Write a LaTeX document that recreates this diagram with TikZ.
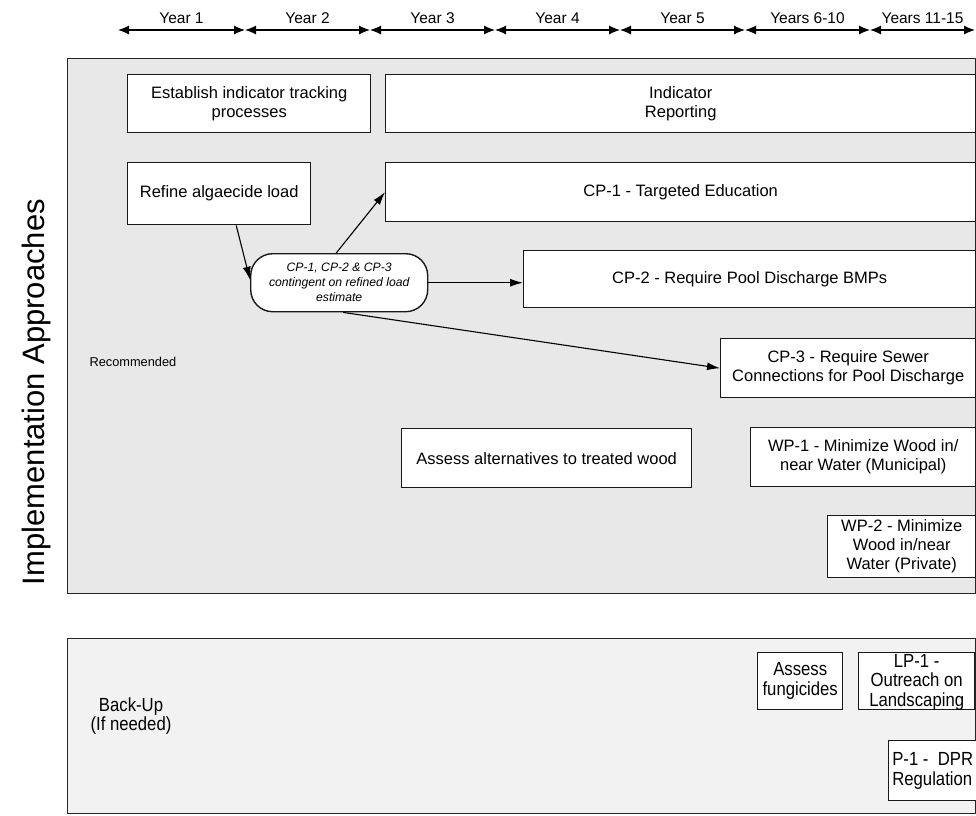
\documentclass[tikz,border=0pt]{standalone}
\usepackage{fontspec}
\setmainfont{Liberation Sans}
\newfontfamily\narrowfont{Liberation Sans}[FakeStretch=0.88]
\usetikzlibrary{arrows.meta}

\definecolor{recshade}{gray}{0.91}
\definecolor{bushade}{gray}{0.95}

\begin{document}
\begin{tikzpicture}[x=1pt,y=-1pt,
  panel/.style={draw=black!85, line width=1.2pt, anchor=north west, inner sep=0pt},
  box/.style={draw=black!90, line width=1.4pt, fill=white, anchor=north west,
    inner sep=2pt, align=center, font=\fontsize{16.5}{19}\selectfont},
  smallbox/.style={box, font=\narrowfont\fontsize{19}{20}\selectfont},
  cond/.style={draw=black!90, line width=1.4pt, fill=white, anchor=north west,
    rounded corners=22pt, inner sep=2pt, align=center,
    font=\itshape\fontsize{12.2}{15}\selectfont},
  arr/.style={line width=1.1pt, -{Latex[length=13pt,width=8pt]}},
  span/.style={line width=1.1pt, {Latex[length=11pt,width=9pt]}-{Latex[length=11pt,width=9pt]}},
  yearlbl/.style={font=\fontsize{15.5}{17}\selectfont, above=2pt, midway}
]
\useasboundingbox (0,0) rectangle (976,815);

% ---- time axis ----
\coordinate (t0) at (118,30);
\coordinate (t1) at (245,30);
\coordinate (t2) at (370,30);
\coordinate (t3) at (495,30);
\coordinate (t4) at (620,30);
\coordinate (t5) at (745,30);
\coordinate (t6) at (870,30);
\coordinate (t7) at (975,30);
\draw[span] (t0) -- (t1) node[yearlbl] {Year 1};
\draw[span] (t1) -- (t2) node[yearlbl] {Year 2};
\draw[span] (t2) -- (t3) node[yearlbl] {Year 3};
\draw[span] (t3) -- (t4) node[yearlbl] {Year 4};
\draw[span] (t4) -- (t5) node[yearlbl] {Year 5};
\draw[span] (t5) -- (t6) node[yearlbl] {Years 6-10};
\draw[span] (t6) -- (t7) node[yearlbl] {Years 11-15};

% ---- side title ----
\node[rotate=90, font=\fontsize{31}{31}\selectfont] (title) at (36,392)
  {Implementation Approaches};

% ---- panels ----
\node[panel, fill=recshade, minimum width=908pt, minimum height=535pt] (recpanel) at (67,58) {};
\node[panel, fill=bushade, minimum width=908pt, minimum height=175pt] (bupanel) at (67,638) {};

\node[anchor=west, font=\fontsize{12.8}{15}\selectfont] (rec) at (86,362) {Recommended};
\node[align=center, font=\narrowfont\fontsize{19}{19}\selectfont] (bu) at (131,716)
  {Back-Up\\(If needed)};

% ---- recommended actions ----
\node[box, minimum width=243pt, minimum height=58pt] (est) at (127,74)
  {Establish indicator tracking\\processes};
\node[box, minimum width=590pt, minimum height=58pt] (ind) at (385,74)
  {Indicator\\Reporting};
\node[box, minimum width=183pt, minimum height=62pt] (ref) at (127,162)
  {Refine algaecide load};
\node[box, minimum width=590pt, minimum height=59pt] (cp1) at (385,162)
  {CP-1 - Targeted Education};
\node[cond, minimum width=177pt, minimum height=58pt] (cnd) at (250,253)
  {CP-1, CP-2 \& CP-3\\contingent on refined load\\estimate};
\node[box, minimum width=452pt, minimum height=57pt] (cp2) at (523,250)
  {CP-2 - Require Pool Discharge BMPs};
\node[box, minimum width=255pt, minimum height=59pt] (cp3) at (720,338)
  {CP-3 - Require Sewer\\Connections for Pool Discharge};
\node[box, minimum width=290pt, minimum height=59pt] (alt) at (401,428)
  {Assess alternatives to treated wood};
\node[box, minimum width=225pt, minimum height=59pt] (wp1) at (750,427)
  {WP-1 - Minimize Wood in/\\near Water (Municipal)};
\node[box, minimum width=148pt, minimum height=62pt] (wp2) at (827,515)
  {WP-2 - Minimize\\Wood in/near\\Water (Private)};

% ---- back-up actions ----
\node[smallbox, minimum width=85pt, minimum height=57pt] (fung) at (757,652)
  {Assess\\fungicides};
\node[smallbox, minimum width=116pt, minimum height=57pt] (lp1) at (858,652) {};
\node[align=center, font=\narrowfont\fontsize{19}{19.5}\selectfont, inner sep=0pt]
  (lp1txt) at ([yshift=-1pt]lp1.center) {LP-1 -\\Outreach on\\Landscaping};
\node[smallbox, align=left, inner sep=1pt, minimum width=88pt, minimum height=60pt] (p1) at (888,740)
  {P-1 -~ DPR\\Regulation};

% ---- dependencies ----
\draw[arr] ([xshift=17pt]ref.south) -- ([yshift=3pt]cnd.west);
\draw[arr] ([xshift=-3pt]cnd.north) -- (cp1.west);
\draw[arr] (cnd.east) -- (cnd.east -| cp2.west);
\draw[arr] ([xshift=4pt]cnd.south) -- (cp3.west);
\end{tikzpicture}
\end{document}
